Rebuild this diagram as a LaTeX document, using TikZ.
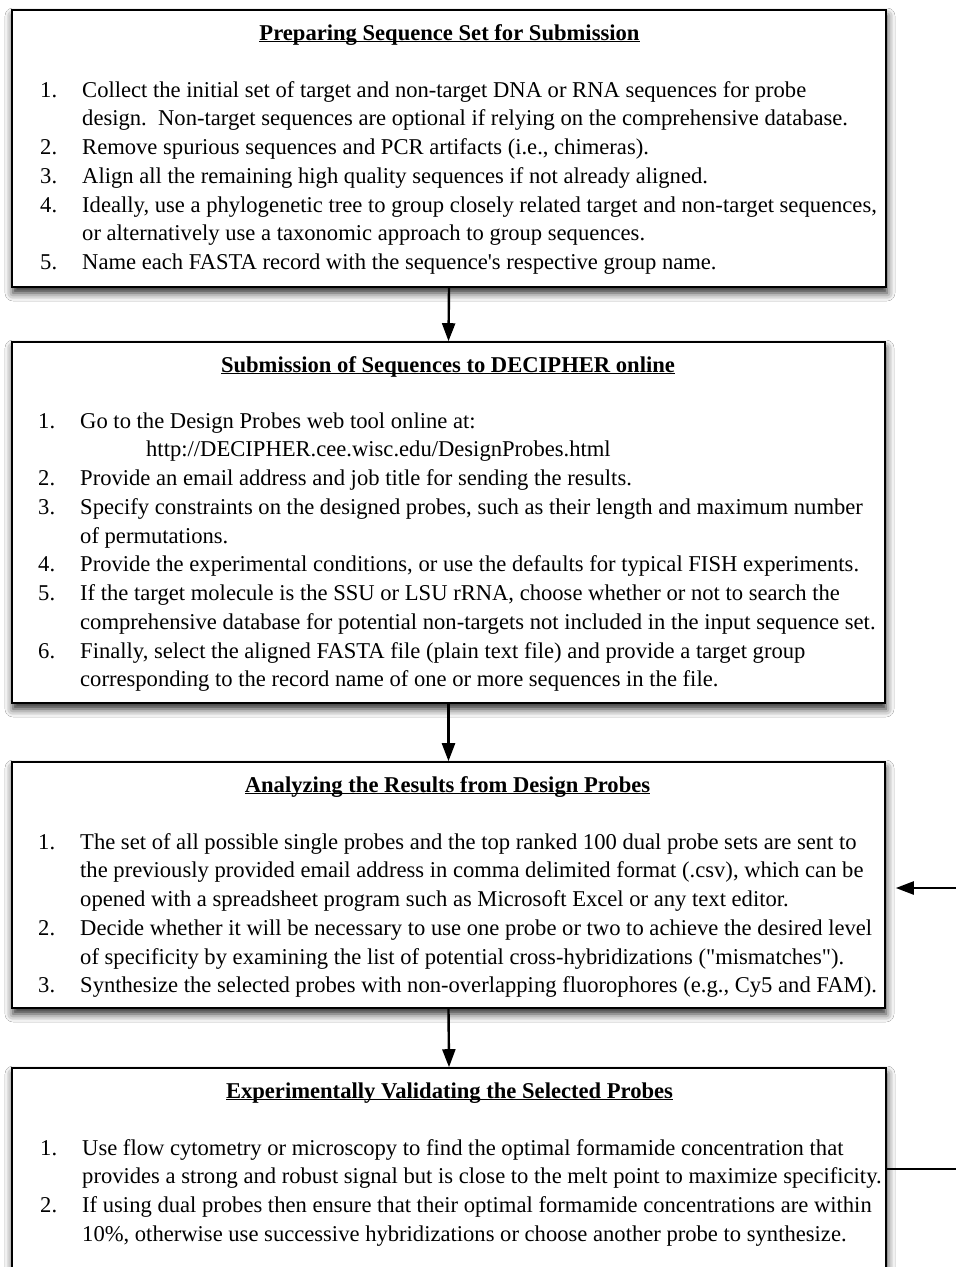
\documentclass[tikz,border=0pt]{standalone}
\usepackage{fontspec}
\setmainfont{Liberation Serif}[Ligatures=TeXOff]
\usetikzlibrary{arrows.meta,shadows.blur}

% underlined heading, rule crossing the descenders
\newcommand{\ultitle}[1]{\setbox0=\hbox{#1}\rlap{\rule[-2.4pt]{\wd0}{1.2pt}}\box0}
\newcommand{\decipherurl}{\hspace{66pt}http://DECIPHER.cee.wisc.edu/DesignProbes.html}

\tikzset{
  panel/.style={draw, line width=1.6pt, fill=white, inner sep=0pt,
    blur shadow={shadow xshift=1pt, shadow yshift=-6pt, shadow blur radius=8pt, shadow opacity=85}},
  heading/.style={font=\fontsize{22.6}{28.75}\selectfont\bfseries, anchor=base, inner sep=0pt},
  entry/.style={font=\fontsize{22.6}{28.75}\selectfont, anchor=base west, inner sep=0pt},
  flow/.style={line width=2.4pt, -{Triangle[length=18pt,width=13pt]}},
}

\begin{document}
\begin{tikzpicture}[x=1pt,y=-1pt]
  \useasboundingbox[fill=white] (0,0) rectangle (956,1267);

  % the four stages
  \node[panel, minimum width=874pt, minimum height=277pt] (prep) at (449,148.5) {};
  \node[panel, minimum width=873pt, minimum height=361pt] (submit) at (448.5,522.5) {};
  \node[panel, minimum width=873pt, minimum height=246pt] (analyze) at (448.5,885) {};
  \node[panel, minimum width=874pt, minimum height=232pt] (valid) at (449,1184) {};

  \draw[flow] (prep.south) -- (submit.north);
  \draw[flow] (submit.south) -- (analyze.north);
  \draw[flow] (analyze.south) -- (valid.north);

  % loop back from validation
  \coordinate (loopin) at (956,888);
  \coordinate (loopout) at (956,1169);
  \draw[flow, shorten >=10pt] (loopin) -- (loopin -| analyze.east);
  \draw[line width=2.4pt] (loopout -| valid.east) -- (loopout);

  % stage 1
  \node[heading] (h1) at (449.5,40) {\ultitle{Preparing Sequence Set for Submission}};
  \foreach \n/\t [count=\i from 0] in {
      {1.}/{Collect the initial set of target and non-target DNA or RNA sequences for probe},
      {}/{design.\ \ Non-target sequences are optional if relying on the comprehensive database.},
      {2.}/{Remove spurious sequences and PCR artifacts (i.e., chimeras).},
      {3.}/{Align all the remaining high quality sequences if not already aligned.},
      {4.}/{Ideally, use a phylogenetic tree to group closely related target and non-target sequences,},
      {}/{or alternatively use a taxonomic approach to group sequences.},
      {5.}/{Name each FASTA record with the sequence's respective group name.}} {
    \node[entry] (n1-\i) at (40,97+28.75*\i) {\n};
    \node[entry] (t1-\i) at (82,97+28.75*\i) {\t};
  }

  % stage 2
  \node[heading] (h2) at (448,372) {\ultitle{Submission of Sequences to DECIPHER online}};
  \foreach \n/\t [count=\i from 0] in {
      {1.}/{Go to the Design Probes web tool online at:},
      {}/{\decipherurl},
      {2.}/{Provide an email address and job title for sending the results.},
      {3.}/{Specify constraints on the designed probes, such as their length and maximum number},
      {}/{of permutations.},
      {4.}/{Provide the experimental conditions, or use the defaults for typical FISH experiments.},
      {5.}/{If the target molecule is the SSU or LSU rRNA, choose whether or not to search the},
      {}/{comprehensive database for potential non-targets not included in the input sequence set.},
      {6.}/{Finally, select the aligned FASTA file (plain text file) and provide a target group},
      {}/{corresponding to the record name of one or more sequences in the file.}} {
    \node[entry] (n2-\i) at (38,428+28.75*\i) {\n};
    \node[entry] (t2-\i) at (80,428+28.75*\i) {\t};
  }

  % stage 3
  \node[heading] (h3) at (447.5,792) {\ultitle{Analyzing the Results from Design Probes}};
  \foreach \n/\t [count=\i from 0] in {
      {1.}/{The set of all possible single probes and the top ranked 100 dual probe sets are sent to},
      {}/{the previously provided email address in comma delimited format (.csv), which can be},
      {}/{opened with a spreadsheet program such as Microsoft Excel or any text editor.},
      {2.}/{Decide whether it will be necessary to use one probe or two to achieve the desired level},
      {}/{of specificity by examining the list of potential cross-hybridizations ("mismatches").},
      {3.}/{Synthesize the selected probes with non-overlapping fluorophores (e.g., Cy5 and FAM).}} {
    \node[entry] (n3-\i) at (38,849+28.75*\i) {\n};
    \node[entry] (t3-\i) at (80,849+28.75*\i) {\t};
  }

  % stage 4
  \node[heading] (h4) at (449.5,1098) {\ultitle{Experimentally Validating the Selected Probes}};
  \foreach \n/\t [count=\i from 0] in {
      {1.}/{Use flow cytometry or microscopy to find the optimal formamide concentration that},
      {}/{provides a strong and robust signal but is close to the melt point to maximize specificity.},
      {2.}/{If using dual probes then ensure that their optimal formamide concentrations are within},
      {}/{10\%, otherwise use successive hybridizations or choose another probe to synthesize.}} {
    \node[entry] (n4-\i) at (40,1155+28.75*\i) {\n};
    \node[entry] (t4-\i) at (82,1155+28.75*\i) {\t};
  }
\end{tikzpicture}
\end{document}
